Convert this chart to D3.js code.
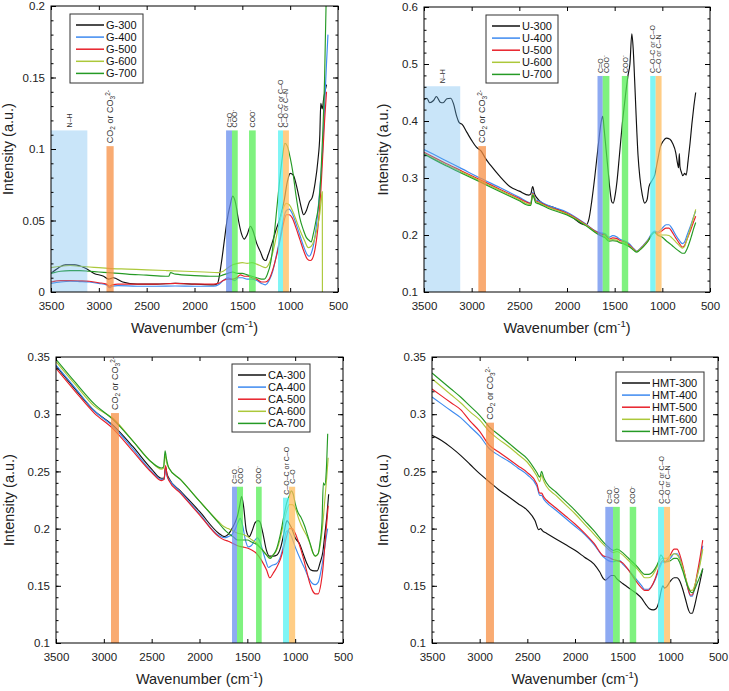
<!DOCTYPE html>
<html>
<head>
<meta charset="utf-8">
<script src="https://cdn.jsdelivr.net/npm/d3@7"></script>
<style>
  body { margin: 0; background: #fff; }
  svg text { font-family: "Liberation Sans", Arial, sans-serif; }
</style>
</head>
<body>
<svg id="chart" width="729" height="691"></svg>
<script>
// x ticks shared by all four panels (wavenumber, cm-1)
const xTicks = [3500, 3000, 2500, 2000, 1500, 1000, 500];
const tempLabels = ["300", "400", "500", "600", "700"];

// ---- G panel spectra [wavenumber, intensity] ----
const g300 = [[3500,0.013],[3420,0.017],[3350,0.019],[3250,0.019],[3150,0.017],[3050,0.013],[2950,0.011],[2900,0.009],[2850,0.010],[2750,0.007],[2600,0.0055],[2400,0.0055],[2200,0.006],[2000,0.0055],[1800,0.005],[1760,0.006],[1720,0.02],[1690,0.035],[1660,0.05],[1630,0.06],[1600,0.067],[1570,0.062],[1540,0.05],[1510,0.041],[1480,0.037],[1450,0.04],[1415,0.046],[1390,0.043],[1350,0.034],[1310,0.028],[1280,0.023],[1255,0.022],[1230,0.026],[1190,0.034],[1150,0.043],[1100,0.053],[1060,0.065],[1030,0.077],[1000,0.083],[970,0.082],[940,0.076],[910,0.067],[880,0.058],[860,0.054],[830,0.057],[800,0.063],[770,0.066],[740,0.076],[710,0.092],[690,0.110],[680,0.132],[665,0.128],[650,0.135],[630,0.142],[620,0.145]];
const g400 = [[3500,0.006],[3400,0.007],[3300,0.0075],[3200,0.0073],[3100,0.007],[3000,0.006],[2920,0.005],[2890,0.003],[2860,0.004],[2800,0.0045],[2600,0.004],[2400,0.004],[2200,0.0042],[2000,0.004],[1800,0.004],[1750,0.005],[1700,0.008],[1650,0.010],[1620,0.009],[1580,0.008],[1540,0.010],[1500,0.010],[1450,0.009],[1400,0.009],[1350,0.008],[1300,0.006],[1260,0.005],[1220,0.008],[1180,0.015],[1140,0.027],[1100,0.040],[1070,0.051],[1040,0.057],[1010,0.058],[980,0.055],[940,0.048],[900,0.040],[860,0.032],[820,0.026],[800,0.025],[780,0.027],[750,0.035],[720,0.050],[690,0.072],[660,0.100],[640,0.130],[620,0.160],[605,0.180]];
const g500 = [[3500,0.007],[3400,0.008],[3300,0.008],[3200,0.0078],[3100,0.0075],[3000,0.0065],[2920,0.0055],[2890,0.004],[2860,0.005],[2800,0.0055],[2600,0.0055],[2400,0.0055],[2200,0.006],[2000,0.0055],[1800,0.0055],[1750,0.006],[1700,0.008],[1650,0.009],[1600,0.009],[1560,0.010],[1520,0.012],[1480,0.011],[1440,0.011],[1400,0.010],[1350,0.009],[1300,0.007],[1260,0.007],[1220,0.009],[1180,0.016],[1140,0.026],[1100,0.038],[1070,0.048],[1040,0.054],[1010,0.054],[980,0.052],[940,0.045],[900,0.037],[860,0.029],[820,0.023],[790,0.022],[770,0.023],[740,0.030],[710,0.045],[680,0.070],[660,0.095],[640,0.120],[620,0.140]];
const g600 = [[3500,0.017],[3400,0.018],[3300,0.0185],[3200,0.018],[3100,0.0175],[3000,0.017],[2900,0.0165],[2700,0.016],[2500,0.0155],[2300,0.015],[2100,0.0145],[1900,0.014],[1750,0.0135],[1700,0.0145],[1650,0.017],[1600,0.019],[1550,0.020],[1500,0.0205],[1450,0.020],[1400,0.0205],[1350,0.0195],[1300,0.018],[1260,0.017],[1220,0.020],[1180,0.028],[1140,0.040],[1100,0.052],[1070,0.059],[1040,0.062],[1010,0.061],[970,0.056],[930,0.049],[890,0.042],[850,0.036],[810,0.031],[780,0.032],[750,0.036],[720,0.044],[690,0.055],[670,0.068],[664,0.07],[663,0.0]];
const g700 = [[3500,0.013],[3400,0.0145],[3300,0.015],[3200,0.015],[3100,0.0145],[3000,0.014],[2900,0.0135],[2700,0.0125],[2500,0.0118],[2300,0.011],[2270,0.011],[2250,0.0135],[2200,0.0125],[2000,0.0115],[1800,0.011],[1750,0.011],[1700,0.012],[1650,0.013],[1600,0.014],[1550,0.013],[1500,0.013],[1450,0.012],[1400,0.011],[1350,0.010],[1300,0.009],[1270,0.009],[1240,0.012],[1200,0.022],[1170,0.038],[1140,0.058],[1110,0.078],[1080,0.095],[1055,0.104],[1030,0.102],[1000,0.094],[970,0.083],[940,0.068],[900,0.052],[860,0.043],[830,0.038],[800,0.036],[780,0.035],[760,0.040],[730,0.050],[700,0.062],[680,0.080],[660,0.110],[640,0.150],[625,0.200],[615,0.22]];

// ---- U panel ----
const u300 = [[3500,0.437],[3470,0.44],[3440,0.432],[3400,0.436],[3370,0.443],[3330,0.433],[3300,0.432],[3260,0.439],[3220,0.44],[3190,0.43],[3160,0.41],[3130,0.397],[3100,0.394],[3050,0.38],[3000,0.366],[2950,0.354],[2900,0.347],[2850,0.333],[2800,0.322],[2700,0.302],[2600,0.285],[2500,0.277],[2400,0.27],[2380,0.272],[2360,0.285],[2340,0.272],[2320,0.266],[2250,0.255],[2150,0.249],[2050,0.241],[1950,0.232],[1850,0.22],[1800,0.218],[1770,0.228],[1740,0.26],[1710,0.3],[1680,0.345],[1660,0.375],[1640,0.4],[1625,0.408],[1610,0.385],[1590,0.35],[1570,0.315],[1550,0.28],[1530,0.258],[1515,0.256],[1495,0.27],[1475,0.295],[1450,0.34],[1420,0.395],[1390,0.44],[1360,0.48],[1340,0.5],[1320,0.553],[1305,0.525],[1290,0.47],[1275,0.41],[1255,0.34],[1235,0.3],[1210,0.27],[1185,0.256],[1160,0.262],[1140,0.285],[1110,0.295],[1080,0.305],[1050,0.33],[1020,0.355],[990,0.365],[960,0.37],[920,0.368],[890,0.36],[860,0.345],[840,0.325],[830,0.318],[822,0.343],[815,0.32],[800,0.31],[785,0.304],[765,0.308],[750,0.305],[730,0.33],[710,0.36],[690,0.395],[670,0.425],[650,0.45]];
const u400 = [[3500,0.35],[3300,0.333],[3100,0.316],[2900,0.299],[2700,0.283],[2500,0.266],[2400,0.257],[2380,0.256],[2360,0.275],[2345,0.27],[2330,0.262],[2300,0.26],[2200,0.252],[2000,0.24],[1800,0.219],[1700,0.207],[1650,0.204],[1600,0.202],[1560,0.196],[1520,0.199],[1480,0.197],[1440,0.192],[1400,0.19],[1350,0.185],[1300,0.176],[1270,0.172],[1240,0.175],[1200,0.182],[1150,0.192],[1100,0.205],[1080,0.207],[1050,0.205],[1000,0.212],[960,0.218],[930,0.218],[900,0.212],[860,0.2],[820,0.19],[790,0.185],[770,0.187],[740,0.2],[700,0.218],[670,0.233],[650,0.242]];
const u500 = [[3500,0.345],[3300,0.328],[3100,0.312],[2900,0.296],[2700,0.28],[2500,0.264],[2400,0.256],[2380,0.255],[2360,0.273],[2345,0.268],[2330,0.26],[2300,0.258],[2200,0.25],[2000,0.238],[1800,0.218],[1700,0.206],[1650,0.202],[1600,0.2],[1560,0.193],[1520,0.195],[1480,0.194],[1440,0.19],[1400,0.188],[1350,0.183],[1300,0.175],[1270,0.171],[1240,0.174],[1200,0.181],[1150,0.19],[1100,0.203],[1080,0.205],[1050,0.203],[1000,0.208],[960,0.212],[930,0.212],[900,0.206],[860,0.195],[820,0.185],[790,0.179],[770,0.181],[740,0.193],[700,0.21],[670,0.224],[650,0.233]];
const u600 = [[3500,0.343],[3300,0.326],[3100,0.31],[2900,0.294],[2700,0.278],[2500,0.262],[2400,0.254],[2380,0.254],[2360,0.272],[2345,0.267],[2330,0.259],[2300,0.257],[2200,0.249],[2000,0.237],[1800,0.217],[1700,0.205],[1650,0.2],[1600,0.197],[1560,0.191],[1520,0.192],[1480,0.191],[1440,0.187],[1400,0.186],[1350,0.181],[1300,0.174],[1270,0.171],[1240,0.174],[1200,0.18],[1150,0.19],[1100,0.202],[1080,0.204],[1050,0.2],[1000,0.2],[960,0.2],[930,0.199],[900,0.195],[860,0.188],[820,0.181],[790,0.177],[770,0.179],[740,0.193],[700,0.215],[670,0.232],[650,0.245]];
const u700 = [[3500,0.342],[3300,0.324],[3100,0.308],[2900,0.292],[2700,0.276],[2500,0.26],[2400,0.252],[2380,0.252],[2360,0.27],[2345,0.265],[2330,0.257],[2300,0.255],[2200,0.247],[2000,0.235],[1800,0.216],[1700,0.204],[1650,0.199],[1600,0.195],[1560,0.189],[1520,0.19],[1480,0.189],[1440,0.186],[1400,0.184],[1350,0.18],[1300,0.173],[1270,0.17],[1240,0.173],[1200,0.179],[1150,0.189],[1100,0.203],[1080,0.205],[1050,0.2],[1000,0.196],[960,0.19],[930,0.186],[900,0.182],[860,0.176],[820,0.171],[790,0.168],[770,0.168],[740,0.176],[700,0.195],[670,0.212],[650,0.222]];

// ---- CA panel ----
const ca300 = [[3500,0.342],[3300,0.322],[3100,0.303],[2900,0.29],[2700,0.272],[2500,0.252],[2400,0.244],[2370,0.244],[2355,0.254],[2340,0.248],[2320,0.244],[2200,0.233],[2000,0.215],[1800,0.196],[1740,0.193],[1700,0.195],[1660,0.2],[1630,0.205],[1600,0.212],[1580,0.22],[1560,0.228],[1540,0.22],[1510,0.198],[1480,0.193],[1450,0.198],[1420,0.205],[1390,0.207],[1370,0.206],[1340,0.197],[1300,0.181],[1270,0.176],[1230,0.176],[1190,0.177],[1150,0.184],[1120,0.195],[1095,0.205],[1085,0.207],[1060,0.204],[1040,0.201],[1000,0.192],[950,0.186],[920,0.179],[880,0.17],[840,0.164],[800,0.163],[770,0.163],[740,0.17],[710,0.18],[690,0.195],[670,0.21],[650,0.23]];
const ca400 = [[3500,0.343],[3300,0.323],[3100,0.303],[2900,0.289],[2700,0.27],[2500,0.25],[2400,0.243],[2370,0.243],[2355,0.252],[2340,0.246],[2320,0.243],[2200,0.232],[2000,0.213],[1800,0.194],[1740,0.192],[1700,0.193],[1660,0.195],[1630,0.199],[1600,0.205],[1575,0.209],[1550,0.203],[1520,0.19],[1490,0.184],[1460,0.185],[1420,0.19],[1395,0.192],[1370,0.189],[1330,0.178],[1300,0.17],[1280,0.166],[1240,0.168],[1200,0.169],[1160,0.174],[1120,0.186],[1095,0.197],[1080,0.198],[1050,0.195],[1000,0.184],[950,0.174],[900,0.165],[860,0.157],[820,0.152],[790,0.151],[760,0.153],[730,0.163],[700,0.178],[680,0.19],[660,0.2]];
const ca500 = [[3500,0.34],[3300,0.32],[3100,0.301],[2900,0.287],[2700,0.268],[2500,0.249],[2400,0.242],[2370,0.243],[2355,0.255],[2340,0.247],[2320,0.242],[2200,0.231],[2000,0.212],[1800,0.193],[1740,0.19],[1700,0.189],[1650,0.187],[1600,0.185],[1550,0.184],[1500,0.183],[1450,0.181],[1400,0.178],[1350,0.172],[1300,0.164],[1265,0.157],[1230,0.161],[1200,0.165],[1160,0.172],[1120,0.183],[1090,0.193],[1060,0.2],[1030,0.2],[1000,0.196],[960,0.187],[920,0.176],[880,0.163],[850,0.153],[820,0.146],[790,0.143],[760,0.143],[730,0.152],[710,0.165],[690,0.185],[670,0.205],[655,0.22]];
const ca600 = [[3500,0.346],[3300,0.326],[3100,0.307],[2900,0.296],[2700,0.277],[2500,0.258],[2400,0.252],[2375,0.253],[2360,0.265],[2345,0.258],[2320,0.253],[2200,0.243],[2000,0.224],[1800,0.206],[1750,0.202],[1700,0.2],[1650,0.198],[1600,0.196],[1550,0.195],[1500,0.193],[1450,0.19],[1400,0.187],[1350,0.182],[1300,0.177],[1270,0.174],[1230,0.177],[1200,0.18],[1160,0.19],[1120,0.205],[1090,0.215],[1060,0.221],[1030,0.221],[1000,0.218],[960,0.208],[920,0.2],[880,0.194],[850,0.188],[820,0.18],[790,0.176],[760,0.178],[730,0.19],[710,0.205],[690,0.225],[670,0.245],[655,0.262]];
const ca700 = [[3500,0.348],[3300,0.328],[3100,0.309],[2900,0.295],[2700,0.277],[2500,0.258],[2400,0.253],[2375,0.254],[2360,0.268],[2345,0.261],[2320,0.253],[2200,0.243],[2000,0.224],[1800,0.205],[1750,0.2],[1700,0.196],[1650,0.193],[1600,0.19],[1550,0.19],[1500,0.19],[1450,0.188],[1400,0.186],[1350,0.182],[1300,0.177],[1260,0.174],[1230,0.177],[1200,0.181],[1160,0.193],[1120,0.21],[1090,0.222],[1060,0.229],[1040,0.233],[1020,0.23],[1000,0.222],[970,0.214],[940,0.21],[900,0.202],[870,0.194],[840,0.186],[810,0.178],[790,0.176],[760,0.178],[740,0.188],[720,0.205],[705,0.24],[690,0.238],[675,0.25],[660,0.283]];

// ---- HMT panel ----
const hmt300 = [[3500,0.2815],[3400,0.277],[3300,0.271],[3200,0.264],[3100,0.256],[3000,0.248],[2900,0.241],[2800,0.234],[2700,0.228],[2600,0.222],[2500,0.216],[2420,0.207],[2380,0.199],[2360,0.2],[2340,0.198],[2300,0.196],[2200,0.191],[2100,0.186],[2000,0.181],[1900,0.175],[1800,0.169],[1740,0.162],[1700,0.156],[1680,0.155],[1650,0.157],[1620,0.159],[1590,0.159],[1560,0.156],[1500,0.152],[1450,0.149],[1400,0.146],[1350,0.143],[1300,0.139],[1260,0.134],[1220,0.13],[1180,0.129],[1150,0.13],[1120,0.136],[1095,0.146],[1080,0.15],[1060,0.148],[1040,0.149],[1000,0.154],[960,0.157],[930,0.157],[900,0.154],[870,0.147],[840,0.138],[810,0.129],[790,0.126],[770,0.126],[750,0.131],[720,0.142],[690,0.153],[660,0.165]];
const hmt400 = [[3500,0.315],[3400,0.309],[3300,0.303],[3200,0.297],[3100,0.289],[3000,0.281],[2900,0.27],[2800,0.264],[2700,0.259],[2600,0.253],[2500,0.247],[2400,0.237],[2370,0.229],[2350,0.229],[2330,0.226],[2300,0.223],[2200,0.216],[2100,0.209],[2000,0.202],[1900,0.195],[1800,0.186],[1700,0.175],[1650,0.172],[1600,0.171],[1560,0.172],[1530,0.172],[1500,0.169],[1450,0.165],[1400,0.16],[1350,0.155],[1300,0.15],[1270,0.147],[1230,0.147],[1200,0.149],[1160,0.155],[1120,0.164],[1100,0.168],[1080,0.171],[1060,0.17],[1040,0.171],[1000,0.174],[960,0.178],[930,0.178],[900,0.174],[870,0.166],[840,0.156],[810,0.146],[790,0.141],[770,0.141],[750,0.146],[720,0.158],[690,0.17],[660,0.185]];
const hmt500 = [[3500,0.322],[3400,0.316],[3300,0.31],[3200,0.304],[3100,0.294],[3000,0.285],[2900,0.273],[2800,0.267],[2700,0.261],[2600,0.255],[2500,0.249],[2400,0.239],[2370,0.231],[2350,0.231],[2330,0.228],[2300,0.225],[2200,0.218],[2100,0.211],[2000,0.204],[1900,0.196],[1800,0.187],[1700,0.176],[1650,0.175],[1600,0.173],[1560,0.172],[1500,0.17],[1450,0.165],[1400,0.159],[1350,0.153],[1300,0.148],[1270,0.146],[1230,0.146],[1200,0.149],[1160,0.156],[1120,0.166],[1100,0.17],[1080,0.172],[1060,0.171],[1040,0.172],[1000,0.177],[960,0.182],[930,0.182],[900,0.177],[870,0.168],[840,0.157],[810,0.146],[790,0.142],[770,0.142],[750,0.147],[720,0.16],[690,0.174],[660,0.19]];
const hmt600 = [[3500,0.331],[3400,0.324],[3300,0.317],[3200,0.31],[3100,0.302],[3000,0.295],[2900,0.285],[2800,0.278],[2700,0.272],[2600,0.265],[2500,0.258],[2400,0.246],[2370,0.241],[2350,0.247],[2330,0.242],[2300,0.237],[2200,0.229],[2100,0.221],[2000,0.213],[1900,0.204],[1800,0.195],[1700,0.186],[1650,0.182],[1600,0.179],[1560,0.18],[1500,0.177],[1450,0.173],[1400,0.169],[1350,0.165],[1300,0.16],[1270,0.157],[1230,0.157],[1200,0.158],[1160,0.163],[1120,0.17],[1100,0.173],[1080,0.174],[1060,0.174],[1040,0.174],[1000,0.176],[960,0.178],[930,0.177],[900,0.173],[870,0.166],[840,0.157],[810,0.149],[790,0.146],[770,0.146],[750,0.149],[720,0.158],[690,0.168],[660,0.182]];
const hmt700 = [[3500,0.336],[3400,0.329],[3300,0.322],[3200,0.315],[3100,0.307],[3000,0.299],[2900,0.289],[2800,0.282],[2700,0.275],[2600,0.268],[2500,0.261],[2400,0.249],[2370,0.245],[2350,0.25],[2330,0.245],[2300,0.24],[2200,0.232],[2100,0.224],[2000,0.216],[1900,0.207],[1800,0.198],[1700,0.188],[1650,0.184],[1600,0.181],[1560,0.182],[1500,0.179],[1450,0.175],[1400,0.171],[1350,0.167],[1300,0.162],[1270,0.16],[1230,0.16],[1200,0.161],[1160,0.165],[1120,0.172],[1100,0.177],[1080,0.175],[1060,0.171],[1040,0.171],[1000,0.172],[960,0.174],[930,0.174],[900,0.17],[870,0.163],[840,0.155],[810,0.148],[790,0.145],[770,0.144],[750,0.146],[720,0.152],[690,0.158],[660,0.165]];

// ---- shaded assignment bands: [kind, low wn, high wn, top intensity] ----
const bandsG = [["nh",3120,3500,0.113],["co2",2845,2920,0.102],["c=o",1608,1670,0.113],["coo",1548,1608,0.113],["coo",1360,1430,0.113],["coc",1075,1127,0.113],["con",1013,1075,0.113]];
const bandsU = [["nh",3120,3500,0.461],["co2",2850,2930,0.356],["c=o",1625,1680,0.479],["coo",1555,1625,0.479],["coo",1358,1425,0.479],["coc",1070,1127,0.479],["con",1008,1070,0.479]];
const bandsCA = [["co2",2842,2925,0.301],["c=o",1608,1660,0.2366],["coo",1545,1608,0.2366],["coo",1350,1409,0.2366],["coc",1064,1127,0.227],["c-o",1000,1064,0.2366]];
const bandsHMT = [["co2",2850,2934,0.2926],["c=o",1601,1682,0.219],["coo",1530,1601,0.219],["coo",1358,1426,0.219],["coc",1066,1129,0.219],["con",1003,1066,0.219]];

// band label text pieces: [text, "sub" | "sup" | ""]
const bandText = {
  "nh":  [["N–H",""]],
  "co2": [["CO",""],["2","sub"],[" or CO",""],["3","sub"],["2-","sup"]],
  "c=o": [["C=O",""]],
  "coo": [["COO",""],["-","sup"]],
  "coc": [["C–O–C or C–O",""]],
  "con": [["C–O or C–N",""]],
  "c-o": [["C–O",""]]
};
const bandFill = {
  "nh":  ["#64b5ee", 0.35],
  "co2": ["#f78f43", 0.75],
  "c=o": ["#688eee", 0.75],
  "coo": ["#54ee54", 0.75],
  "coc": ["#54f2f2", 0.75],
  "con": ["#ffbc5c", 0.75],
  "c-o": ["#ffbc5c", 0.75]
};
const seriesColors = ["#111111", "#3d8af0", "#e8202a", "#acc83a", "#259a25"];

const panels = [
  { prefix: "G", data: [g300,g400,g500,g600,g700], yDomain: [0, 0.2], yMajor: 0.05, yMinor: 0.01, bands: bandsG,
    box: { l: 51, t: 6, r: 338, b: 292 }, legend: { x: 70, y: 14, w: 73, h: 69 }, yTitleX: 13 },
  { prefix: "U", data: [u300,u400,u500,u600,u700], yDomain: [0.1, 0.6], yMajor: 0.1, yMinor: 0.02, bands: bandsU,
    box: { l: 424, t: 7, r: 710, b: 292 }, legend: { x: 486, y: 15, w: 72, h: 68 }, yTitleX: 388 },
  { prefix: "CA", data: [ca300,ca400,ca500,ca600,ca700], yDomain: [0.1, 0.35], yMajor: 0.05, yMinor: 0.01, bands: bandsCA,
    box: { l: 56, t: 357, r: 343, b: 643 }, legend: { x: 232, y: 364, w: 78, h: 68 }, yTitleX: 14 },
  { prefix: "HMT", data: [hmt300,hmt400,hmt500,hmt600,hmt700], yDomain: [0.1, 0.35], yMajor: 0.05, yMinor: 0.01, bands: bandsHMT,
    box: { l: 432, t: 357, r: 718, b: 643 }, legend: { x: 616, y: 372, w: 88, h: 69 }, yTitleX: 388 }
];

const svg = d3.select("#chart");
const fmt = d => String(+d.toFixed(2));

panels.forEach((p, pi) => {
  const w = p.box.r - p.box.l, h = p.box.b - p.box.t;
  const x = d3.scaleLinear().domain([3500, 500]).range([0, w]);
  const y = d3.scaleLinear().domain(p.yDomain).range([h, 0]);
  const g = svg.append("g").attr("transform", `translate(${p.box.l},${p.box.t})`);

  g.append("clipPath").attr("id", "clip" + pi)
    .append("rect").attr("width", w).attr("height", h);

  const line = d3.line()
    .x(d => x(d[0]))
    .y(d => y(d[1]))
    .curve(d3.curveMonotoneX);

  // spectra
  const plot = g.append("g").attr("clip-path", `url(#clip${pi})`);
  plot.selectAll("path.spec")
    .data(p.data)
    .join("path")
    .attr("class", "spec")
    .attr("d", line)
    .attr("fill", "none")
    .attr("stroke", (d, i) => seriesColors[i])
    .attr("stroke-width", 1.15);

  // bands sit on top of the lines, partly transparent
  plot.selectAll("rect.band")
    .data(p.bands)
    .join("rect")
    .attr("class", "band")
    .attr("x", d => x(d[2]))
    .attr("width", d => x(d[1]) - x(d[2]))
    .attr("y", d => y(d[3]))
    .attr("height", d => h - y(d[3]))
    .attr("fill", d => bandFill[d[0]][0])
    .attr("fill-opacity", d => bandFill[d[0]][1]);

  // band labels, rotated (the CO2 one is set a little larger)
  p.bands.forEach(b => {
    const big = b[0] === "co2";
    const fs = big ? 9 : 7, fsSmall = big ? 6.5 : 5;
    const cx = (x(b[1]) + x(b[2])) / 2;
    const t = g.append("text")
      .attr("transform", `translate(${cx + fs * 0.36},${y(b[3]) - 3}) rotate(-90)`)
      .attr("font-size", fs)
      .attr("fill", "#333");
    let shift = 0;
    bandText[b[0]].forEach(([s, k]) => {
      const target = k === "sub" ? fs * 0.22 : k === "sup" ? -fs * 0.38 : 0;
      t.append("tspan")
        .attr("dy", target - shift)
        .attr("font-size", k ? fsSmall : fs)
        .text(s);
      shift = target;
    });
  });

  // axes: ticks point inward on all four sides
  const major = d3.range(p.yDomain[0], p.yDomain[1] + 1e-9, p.yMajor);
  const minor = d3.range(p.yDomain[0], p.yDomain[1] + 1e-9, p.yMinor);

  const styleAxis = sel => {
    sel.select(".domain").remove();
    sel.attr("font-size", 11.5).attr("font-family", '"Liberation Sans", Arial, sans-serif');
    sel.selectAll("line").attr("stroke", "#000");
    sel.selectAll("text").attr("fill", "#222");
  };

  g.append("g").attr("transform", `translate(0,${h})`)
    .call(d3.axisBottom(x).tickValues(xTicks).tickSizeInner(-4).tickSizeOuter(0).tickPadding(10).tickFormat(d3.format("d")))
    .call(styleAxis);
  g.append("g")
    .call(d3.axisTop(x).tickValues(xTicks).tickSizeInner(-4).tickSizeOuter(0).tickFormat(""))
    .call(styleAxis);
  g.append("g")
    .call(d3.axisLeft(y).tickValues(major).tickSizeInner(-5).tickSizeOuter(0).tickPadding(6).tickFormat(fmt))
    .call(styleAxis);
  g.append("g")
    .call(d3.axisLeft(y).tickValues(minor).tickSizeInner(-2.5).tickSizeOuter(0).tickFormat(""))
    .call(styleAxis);
  g.append("g").attr("transform", `translate(${w},0)`)
    .call(d3.axisRight(y).tickValues(major).tickSizeInner(-5).tickSizeOuter(0).tickFormat(""))
    .call(styleAxis);
  g.append("g").attr("transform", `translate(${w},0)`)
    .call(d3.axisRight(y).tickValues(minor).tickSizeInner(-2.5).tickSizeOuter(0).tickFormat(""))
    .call(styleAxis);

  // frame
  g.append("rect")
    .attr("x", 0).attr("y", 0).attr("width", w).attr("height", h)
    .attr("fill", "none").attr("stroke", "#000").attr("stroke-width", 1);

  // axis titles
  const xt = svg.append("text")
    .attr("x", p.box.l + w / 2)
    .attr("y", p.box.b + 41)
    .attr("text-anchor", "middle")
    .attr("font-size", 14.5)
    .attr("fill", "#222");
  xt.append("tspan").text("Wavenumber (cm");
  xt.append("tspan").attr("font-size", 9.5).attr("dy", -6).text("-1");
  xt.append("tspan").attr("dy", 6).text(")");

  svg.append("text")
    .attr("transform", `translate(${p.yTitleX},${p.box.t + h / 2}) rotate(-90)`)
    .attr("text-anchor", "middle")
    .attr("font-size", 14.5)
    .attr("fill", "#222")
    .text("Intensity (a.u.)");

  // legend
  const L = p.legend;
  const lg = svg.append("g").attr("transform", `translate(${L.x},${L.y})`);
  lg.append("rect")
    .attr("width", L.w).attr("height", L.h)
    .attr("fill", "#fff").attr("stroke", "#333").attr("stroke-width", 1);
  const rows = lg.selectAll("g.row")
    .data(tempLabels)
    .join("g")
    .attr("class", "row")
    .attr("transform", (d, i) => `translate(0,${11 + i * 12.1})`);
  rows.append("line")
    .attr("x1", 6).attr("x2", 34)
    .attr("stroke", (d, i) => seriesColors[i])
    .attr("stroke-width", 1.5);
  rows.append("text")
    .attr("x", 36).attr("dy", "0.35em")
    .attr("font-size", 11)
    .attr("fill", "#111")
    .text(d => `${p.prefix}-${d}`);
});
</script>
</body>
</html>
